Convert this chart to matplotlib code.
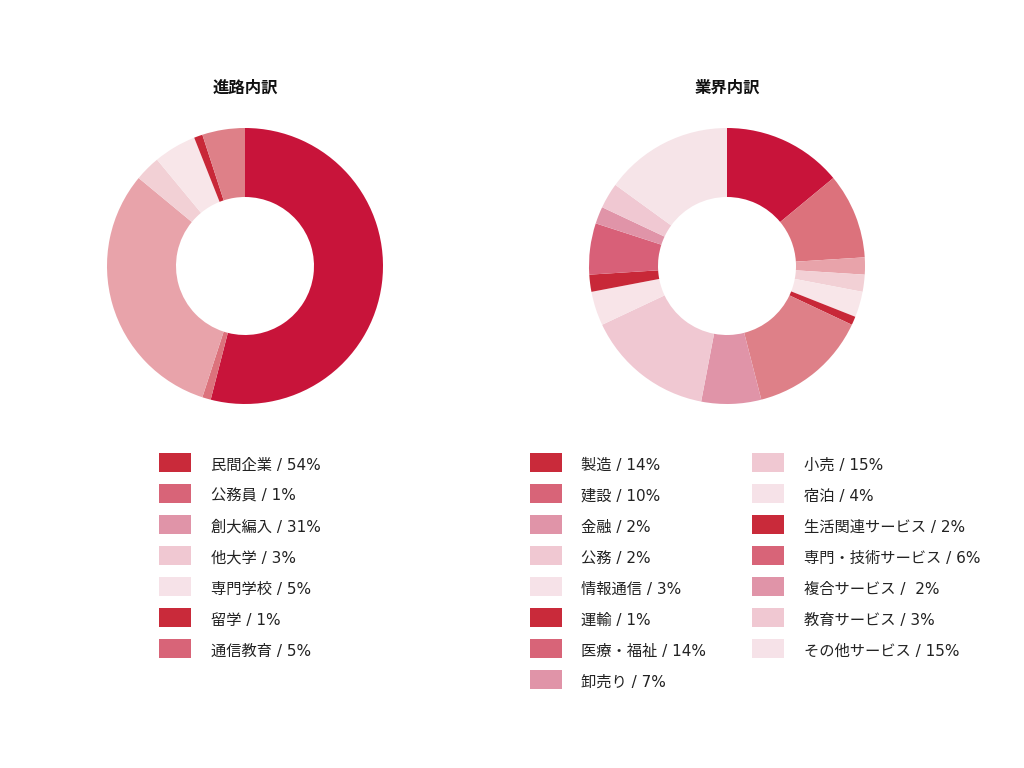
import matplotlib
matplotlib.use("Agg")
import matplotlib.pyplot as plt
from matplotlib.patches import Rectangle

plt.rcParams['font.family'] = ['DejaVu Sans', 'Noto Sans CJK JP']

# ---- data ----
left_title = "進路内訳"
left_labels = ["民間企業", "公務員", "創大編入", "他大学", "専門学校", "留学", "通信教育"]
left_values = [54, 1, 31, 3, 5, 1, 5]
left_legend_text = ["民間企業 / 54%", "公務員 / 1%", "創大編入 / 31%", "他大学 / 3%",
                    "専門学校 / 5%", "留学 / 1%", "通信教育 / 5%"]

right_title = "業界内訳"
right_labels = ["製造", "建設", "金融", "公務", "情報通信", "運輸", "医療・福祉", "卸売り",
                "小売", "宿泊", "生活関連サービス", "専門・技術サービス", "複合サービス",
                "教育サービス", "その他サービス"]
right_values = [14, 10, 2, 2, 3, 1, 14, 7, 15, 4, 2, 6, 2, 3, 15]
right_legend_text = ["製造 / 14%", "建設 / 10%", "金融 / 2%", "公務 / 2%", "情報通信 / 3%",
                     "運輸 / 1%", "医療・福祉 / 14%", "卸売り / 7%", "小売 / 15%", "宿泊 / 4%",
                     "生活関連サービス / 2%", "専門・技術サービス / 6%", "複合サービス /  2%",
                     "教育サービス / 3%", "その他サービス / 15%"]

# ---- styles ----
pie_colors = ["#C8143A", "#DC727C", "#E8A3AA", "#F2D0D5", "#F8E6E9",
              "#C82838", "#DE8088", "#E094A8", "#F0C8D2", "#F8E4E8",
              "#C82838", "#D86078", "#E094A8", "#F0C8D2", "#F6E4E8"]
legend_cycle = ["#C92A3A", "#D86478", "#E094A8", "#F0C8D2", "#F6E2E8"]

W, H = 1024, 768
fig = plt.figure(figsize=(W / 100, H / 100), dpi=100)
fig.patch.set_facecolor("white")

R = 138  # outer radius in px


def draw_pie(cx, cy, values, title):
    ax = fig.add_axes([(cx - R) / W, (H - cy - R) / H, 2 * R / W, 2 * R / H])
    ax.pie(values, colors=pie_colors[:len(values)], startangle=90, counterclock=False,
           radius=1, wedgeprops=dict(width=0.5, linewidth=0))
    ax.set_xlim(-1, 1)
    ax.set_ylim(-1, 1)
    ax.set_aspect("equal")
    ax.axis("off")
    fig.text(cx / W, 1 - 88 / H, title, ha="center", va="center",
             fontsize=11.8, fontweight="bold", color="#111111")


draw_pie(245, 266, left_values, left_title)
draw_pie(727, 266, right_values, right_title)

# legend overlay in pixel coordinates
lax = fig.add_axes([0, 0, 1, 1])
lax.set_xlim(0, W)
lax.set_ylim(H, 0)
lax.axis("off")

row_y0 = 462
row_dy = 31.1


def draw_legend(x_box, x_text, texts, start_idx):
    for i, t in enumerate(texts):
        y = row_y0 + i * row_dy
        c = legend_cycle[(start_idx + i) % 5]
        lax.add_patch(Rectangle((x_box, y - 9.5), 32, 19, facecolor=c, edgecolor="none"))
        lax.text(x_text, y + 7.5, t, ha="left", va="baseline", fontsize=11, color="#222222")


draw_legend(159, 211, left_legend_text, 0)
draw_legend(530, 581, right_legend_text[:8], 0)
draw_legend(752, 804, right_legend_text[8:], 8)

fig.savefig("out.png", dpi=100, facecolor="white")
